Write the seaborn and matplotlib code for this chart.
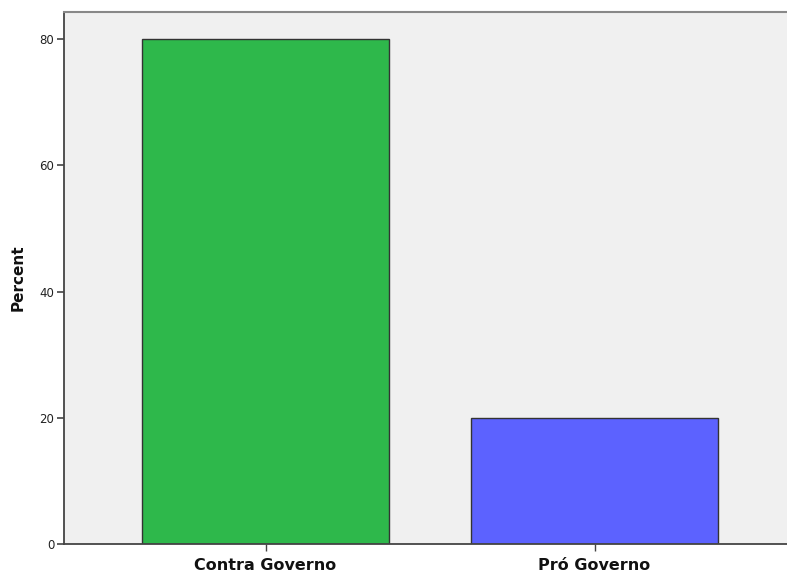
import matplotlib
matplotlib.use("Agg")
import matplotlib.pyplot as plt
import seaborn as sns
import pandas as pd

# data
categories = ["Contra Governo", "Pró Governo"]
percent = [80, 20]
bar_colors = ["#2EB84B", "#5C62FF"]
y_ticks = [0, 20, 40, 60, 80]

df = pd.DataFrame({"grupo": categories, "Percent": percent})

sns.set_theme(style="white")
plt.rcParams["font.family"] = ["DejaVu Sans"]

fig = plt.figure(figsize=(7.87, 5.73), dpi=100)
ax = fig.add_axes([64 / 787, 29 / 573, (787 - 64) / 787, (544 - 12) / 573])
ax.set_facecolor("#F0F0F0")

sns.barplot(data=df, x="grupo", y="Percent", hue="grupo", palette=bar_colors,
            width=0.75, edgecolor="#333333", linewidth=1.0, legend=False,
            saturation=1, ax=ax)

ax.set_xlim(-0.6125, 1.585)
ax.set_ylim(0, 84.3)
ax.set_yticks(y_ticks)
ax.set_yticklabels([str(v) for v in y_ticks], fontsize=8.5, color="#222222")
ax.set_xticks(range(len(categories)))
ax.set_xticklabels(categories, fontsize=11.5, fontweight="bold", color="#111111")
ax.set_xlabel("")
ax.set_ylabel("Percent", fontsize=11, fontweight="bold", color="#111111", labelpad=10)

ax.tick_params(axis="y", length=5, width=1.2, color="#444444", pad=2, left=True)
ax.tick_params(axis="x", length=5, width=1.0, color="#444444", pad=5, bottom=True)

for side in ["left", "bottom"]:
    ax.spines[side].set_color("#444444")
    ax.spines[side].set_linewidth(1.3)
ax.spines["top"].set_color("#888888")
ax.spines["top"].set_linewidth(1.5)
ax.spines["right"].set_visible(False)

fig.savefig("out.png", dpi=100, facecolor="white")
